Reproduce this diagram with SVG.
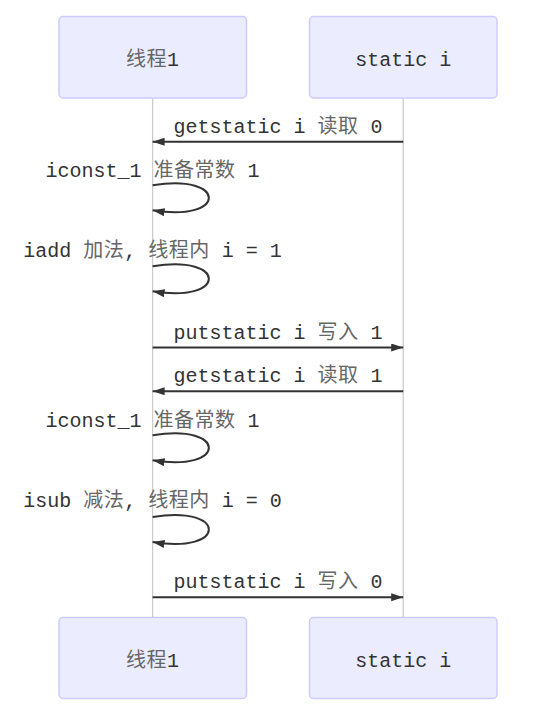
<svg xmlns="http://www.w3.org/2000/svg" width="539" height="712" viewBox="0 0 539 712">
  <style>
    .actor { fill: #ECECFF; stroke: #CCCCFF; stroke-width: 1.5; }
    .label { font-family: "Liberation Mono", "Noto Sans CJK SC", monospace; font-size: 20px; fill: #333; text-anchor: middle; }
    .cjk { fill: #666; letter-spacing: 0.5px; }
    .lifeline { stroke: #cccccc; stroke-width: 1.3; fill: none; }
    .msg { stroke: #333; stroke-width: 2; fill: none; marker-end: url(#arrow); }
  </style>
  <defs>
    <marker id="arrow" markerUnits="userSpaceOnUse" markerWidth="13" markerHeight="9" refX="12" refY="4" orient="auto" viewBox="0 0 13 9">
      <path d="M0,0 L12,4 L0,8 z" fill="#333"/>
    </marker>
  </defs>
  <rect width="539" height="712" fill="#ffffff"/>

  <g id="lifelines">
    <line class="lifeline" x1="152.6" y1="98.3" x2="152.6" y2="617.5"/>
    <line class="lifeline" x1="403.2" y1="98.3" x2="403.2" y2="617.5"/>
  </g>

  <g id="actor-thread-top">
    <rect class="actor" x="59" y="16.5" width="187.5" height="81.5" rx="4"/>
    <text class="label" x="152.6" y="65.5"><tspan class="cjk">线程</tspan>1</text>
  </g>
  <g id="actor-static-top">
    <rect class="actor" x="309.5" y="16.5" width="187.5" height="81.5" rx="4"/>
    <text class="label" x="403.2" y="65.5">static i</text>
  </g>
  <g id="actor-thread-bottom">
    <rect class="actor" x="59" y="617.5" width="187.5" height="81" rx="4"/>
    <text class="label" x="152.6" y="666.7"><tspan class="cjk">线程</tspan>1</text>
  </g>
  <g id="actor-static-bottom">
    <rect class="actor" x="309.5" y="617.5" width="187.5" height="81" rx="4"/>
    <text class="label" x="403.2" y="666.7">static i</text>
  </g>

  <g id="connectors">
    <line class="msg" x1="403.2" y1="141.7" x2="152.6" y2="141.7"/>
    <path class="msg" d="M152.6,185.3 C227.6,172.8 227.6,222.8 152.6,210.3"/>
    <path class="msg" d="M152.6,266.3 C227.6,253.8 227.6,303.8 152.6,291.3"/>
    <line class="msg" x1="152.6" y1="347.5" x2="403.2" y2="347.5"/>
    <line class="msg" x1="403.2" y1="391.2" x2="152.6" y2="391.2"/>
    <path class="msg" d="M152.6,435.3 C227.6,422.8 227.6,472.8 152.6,460.3"/>
    <path class="msg" d="M152.6,517 C227.6,504.5 227.6,554.5 152.6,542"/>
    <line class="msg" x1="152.6" y1="597.3" x2="403.2" y2="597.3"/>
  </g>

  <g id="message-labels">
    <text class="label" x="278" y="133">getstatic i <tspan class="cjk">读取</tspan> 0</text>
    <text class="label" x="152.6" y="176.7">iconst_1 <tspan class="cjk">准备常数</tspan> 1</text>
    <text class="label" x="152.6" y="257">iadd <tspan class="cjk">加法</tspan>, <tspan class="cjk">线程内</tspan> i = 1</text>
    <text class="label" x="278" y="338.5">putstatic i <tspan class="cjk">写入</tspan> 1</text>
    <text class="label" x="278" y="382.3">getstatic i <tspan class="cjk">读取</tspan> 1</text>
    <text class="label" x="152.6" y="426.7">iconst_1 <tspan class="cjk">准备常数</tspan> 1</text>
    <text class="label" x="152.6" y="507">isub <tspan class="cjk">减法</tspan>, <tspan class="cjk">线程内</tspan> i = 0</text>
    <text class="label" x="278" y="588.3">putstatic i <tspan class="cjk">写入</tspan> 0</text>
  </g>
</svg>
